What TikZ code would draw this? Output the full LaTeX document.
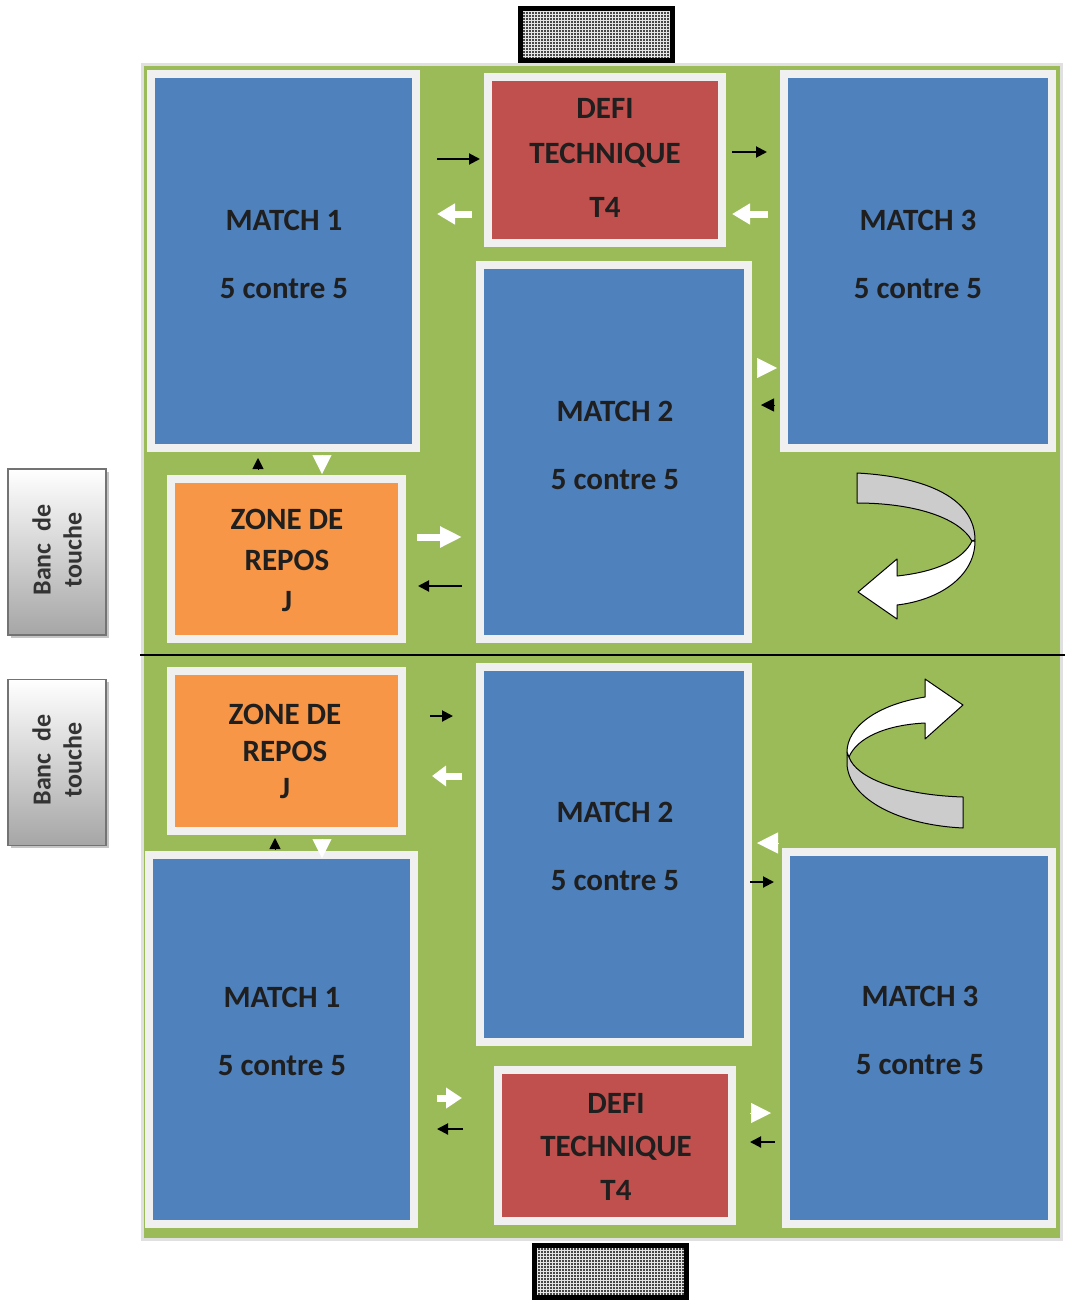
\documentclass[tikz,border=0pt]{standalone}
\usepackage{fontspec}
\setmainfont{Carlito}
\usetikzlibrary{arrows.meta,patterns,shadows}
\definecolor{fieldgreen}{HTML}{9BBB59}
\definecolor{matchblue}{HTML}{4F81BD}
\definecolor{defired}{HTML}{C0504D}
\definecolor{reposorange}{HTML}{F79646}
\begin{document}
\begin{tikzpicture}[x=1pt,y=-1pt,
  box/.style={draw=white!94!black,line width=8pt,inner sep=0pt},
  matchbox/.style={box,fill=matchblue},
  defibox/.style={box,fill=defired,minimum width=234pt},
  reposbox/.style={box,fill=reposorange,minimum width=231pt,minimum height=160pt},
  txt/.style={font=\bfseries\fontsize{31}{37}\selectfont,align=center,inner sep=0pt,text=black!88},
  goal/.style={draw=black,line width=5pt,preaction={fill=black!72},pattern=grid,pattern color=white!90!black,minimum width=152pt,minimum height=52pt},
  banc/.style={draw=black!55,line width=1.5pt,top color=white,bottom color=black!35,minimum width=98pt,minimum height=166pt,drop shadow={shadow xshift=2.5pt,shadow yshift=-2.5pt,fill=black!45}},
  bt/.style={font=\bfseries\fontsize{26}{31}\selectfont,rotate=90,align=center,inner sep=0pt,text=black!80},
  blk/.style={line width=2pt,-{Triangle[length=11pt,width=11pt]}},
  wht/.style={white,line width=7pt,-{Triangle[length=#1,width=20pt]}}, wht/.default=18pt,
  btri/.style={line width=.5pt,-{Triangle[length=#1,width=#1]}},
  wtri/.style={white,line width=.5pt,-{Triangle[length=#1,width=#1]}},
  ribbon/.style={draw=black,line width=1pt,line join=round}]
\useasboundingbox (0,0) rectangle (1065,1304);
% field and half-way line
\draw[fill=fieldgreen,draw=white!88!black,line width=3pt] (142,64) rectangle (1061,1239);
\draw[line width=1.2pt] (140,655) -- (1065,655);
% goals
\node[goal] (goaltop) at (596,34) {};
\node[goal] (goalbot) at (610,1271.5) {};
% top half
\node[matchbox,minimum width=265pt,minimum height=374pt] (m1t) at (283.5,261) {};
\node[defibox,minimum height=166pt] (dt) at (605,160) {};
\node[matchbox,minimum width=268pt,minimum height=374pt] (m3t) at (918,261) {};
\node[matchbox,minimum width=268pt,minimum height=374pt] (m2t) at (614,452) {};
\node[reposbox] (zt) at (286.5,559) {};
\node[txt] (m1tl) at (284,254.5) {MATCH 1\\[31pt]5 contre 5};
\node[txt] (dtl) at (605,157.5) {DEFI\\[8pt]TECHNIQUE\\[17pt]T4};
\node[txt] (m3tl) at (918,254.5) {MATCH 3\\[31pt]5 contre 5};
\node[txt] (m2tl) at (615,445) {MATCH 2\\[31pt]5 contre 5};
\node[txt] (ztl) at (287,560) {ZONE DE\\[4pt]REPOS\\[4pt]J};
% bottom half
\node[reposbox] (zb) at (286.5,751) {};
\node[matchbox,minimum width=268pt,minimum height=375pt] (m2b) at (614,854.5) {};
\node[matchbox,minimum width=265pt,minimum height=369pt] (m1b) at (281.5,1039.5) {};
\node[matchbox,minimum width=266pt,minimum height=372pt] (m3b) at (919,1038) {};
\node[defibox,minimum height=151pt] (db) at (615,1145.5) {};
\node[txt] (zbl) at (285,751.5) {ZONE DE\\[0pt]REPOS\\[0pt]J};
\node[txt] (m2bl) at (615,846.5) {MATCH 2\\[31pt]5 contre 5};
\node[txt] (m1bl) at (282,1031.5) {MATCH 1\\[31pt]5 contre 5};
\node[txt] (m3bl) at (920,1030.5) {MATCH 3\\[31pt]5 contre 5};
\node[txt] (dbl) at (616,1146.5) {DEFI\\[6pt]TECHNIQUE\\[7pt]T4};
% small arrows, top half
\draw[blk] (437,159) -- (480,159); \draw[wht] (472,214) -- (437,214);
\draw[blk] (732,152) -- (767,152); \draw[wht] (768,214) -- (732,214);
\draw[wtri=20pt] (757,368) -- (777,368); \draw[btri=13pt] (774,405) -- (761,405);
\draw[btri=11pt] (258,469) -- (258,458); \draw[wtri=19pt] (322,455) -- (322,474);
\draw[wht=22pt] (417,537) -- (462,537); \draw[blk] (462,586) -- (418,586);
% small arrows, bottom half
\draw[blk] (430,716) -- (453,716); \draw[wht=14pt] (462,776) -- (432,776);
\draw[btri=11pt] (275,849) -- (275,838); \draw[wtri=19pt] (322,839) -- (322,858);
\draw[wtri=21pt] (778,843) -- (757,843); \draw[blk] (750,882) -- (774,882);
\draw[wht=16pt] (437,1098) -- (462,1098); \draw[blk] (463,1129) -- (437,1129);
\draw[wtri=20pt] (750,1113) -- (771,1113); \draw[blk] (775,1142) -- (750,1142);
% rotation arrows
\draw[ribbon,fill=black!20] (857,473) .. controls (930,477) and (975,500) .. (975,540)
  -- (972,541) .. controls (958,516) and (910,503) .. (857,503) -- cycle;
\draw[ribbon,fill=white] (975,541) .. controls (975,576) and (940,600) .. (897,605) -- (897,619)
  -- (858,592) -- (897,559) -- (897,576) .. controls (935,572) and (963,560) .. (972,541) -- cycle;
\draw[ribbon,fill=black!20] (847,752) -- (847,765) .. controls (850,800) and (900,825) .. (963,828)
  -- (963,797) .. controls (900,795) and (856,778) .. (849,757) -- cycle;
\draw[ribbon,fill=white] (925,697) .. controls (875,705) and (847,728) .. (847,752) -- (849,757)
  .. controls (857,738) and (885,725) .. (925,723) -- (925,739) -- (963,705) -- (925,679) -- cycle;
% benches
\node[banc] (banctop) at (57,552) {};
\node[bt] (banctopl) at (57,550) {Banc\ \ de\\touche};
\node[banc] (bancbot) at (57,762.5) {};
\node[bt] (bancbotl) at (57,760) {Banc\ \ de\\touche};
\end{tikzpicture}
\end{document}
